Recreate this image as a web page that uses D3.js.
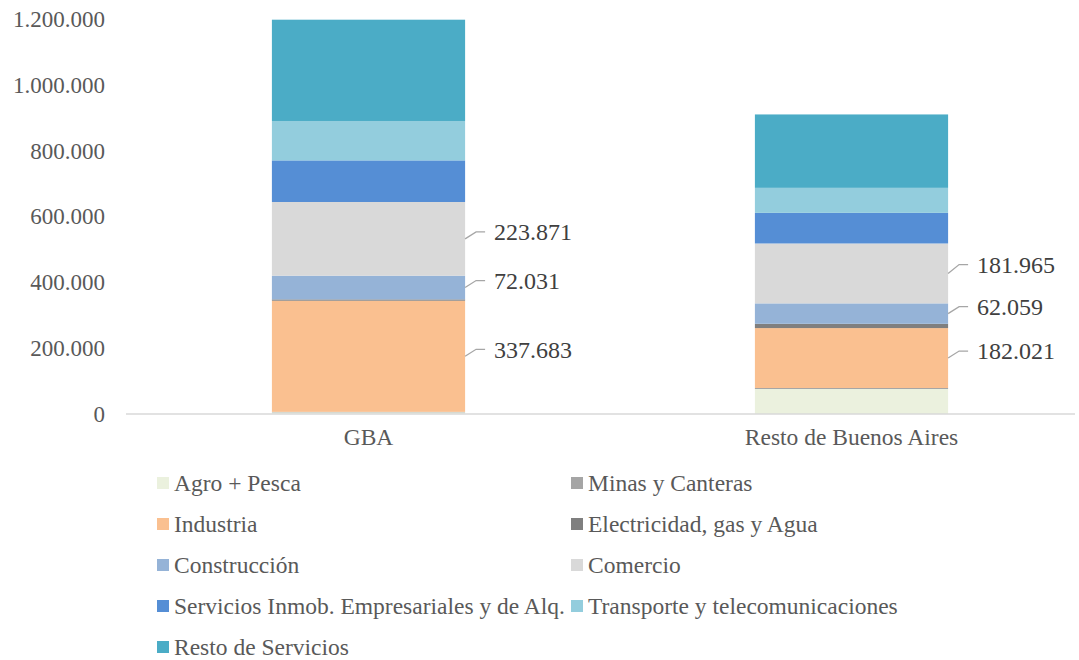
<!DOCTYPE html>
<html>
<head>
<meta charset="utf-8">
<script src="https://cdn.jsdelivr.net/npm/d3@7"></script>
<style>
  body { margin: 0; background: #fff; }
  text { font-family: "Liberation Serif", serif; }
</style>
</head>
<body>
<div id="chart"></div>
<script>
// Categories and sectors
const regions = ["GBA", "Resto de Buenos Aires"];
const sectors = [
    "Agro + Pesca", "Minas y Canteras", "Industria", "Electricidad, gas y Agua",
    "Construcción", "Comercio", "Servicios Inmob. Empresariales y de Alq.",
    "Transporte y telecomunicaciones", "Resto de Servicios"
];
const colors = ["#EBF1DE", "#A5A5A5", "#FAC090", "#7F7F7F", "#95B3D7",
    "#D9D9D9", "#558ED5", "#93CDDD", "#4BACC6"];

// Values per sector (same order as sectors)
const gbaValues = [5000, 1500, 337683, 4000, 72031, 223871, 126400, 119700, 307700];
const restoValues = [76000, 3000, 182021, 13000, 62059, 181965, 93000, 76000, 223000];

// Sectors that carry a data label
const labelled = ["Industria", "Construcción", "Comercio"];

const yTicks = [0, 200000, 400000, 600000, 800000, 1000000, 1200000];

const width = 1079, height = 660;
const locale = d3.formatLocale({ decimal: ",", thousands: ".", grouping: [3], currency: ["$", ""] });
const fmt = locale.format(",d");

const svg = d3.select("#chart").append("svg")
    .attr("width", width)
    .attr("height", height);

const x = d3.scaleBand()
    .domain(regions)
    .range([127, 1093])
    .paddingInner(0.6)
    .paddingOuter(0.3);

const y = d3.scaleLinear()
    .domain([0, 1200000])
    .range([414, 19]);

// stack data
const rows = regions.map((r, i) => {
    const vals = i === 0 ? gbaValues : restoValues;
    const row = { region: r };
    sectors.forEach((s, j) => row[s] = vals[j]);
    return row;
});
const series = d3.stack().keys(sectors)(rows);

// y axis labels
const yAxis = svg.append("g")
    .attr("transform", "translate(105,0)")
    .call(d3.axisLeft(y).tickValues(yTicks).tickFormat(fmt).tickSize(0).tickPadding(0));
yAxis.select(".domain").remove();
yAxis.selectAll("text")
    .attr("font-family", "Liberation Serif")
    .attr("font-size", 23)
    .attr("fill", "#595959");

// bars
svg.append("g").selectAll("g")
    .data(series)
    .join("g")
    .attr("fill", (d, i) => colors[i])
    .selectAll("rect")
    .data(d => d)
    .join("rect")
    .attr("x", d => x(d.data.region))
    .attr("width", x.bandwidth())
    .attr("y", d => y(d[1]))
    .attr("height", d => y(d[0]) - y(d[1]));

// baseline
svg.append("line")
    .attr("x1", 126).attr("x2", 1075)
    .attr("y1", y(0)).attr("y2", y(0))
    .attr("stroke", "#D9D9D9")
    .attr("stroke-width", 1.5);

// category labels
const xAxis = svg.append("g")
    .attr("transform", `translate(0,${y(0)})`)
    .call(d3.axisBottom(x).tickSize(0).tickPadding(14));
xAxis.select(".domain").remove();
xAxis.selectAll("text")
    .attr("font-family", "Liberation Serif")
    .attr("font-size", 23.5)
    .attr("fill", "#595959");

// data labels with leader lines
const labelG = svg.append("g");
regions.forEach(r => {
    const xr = x(r) + x.bandwidth();
    let prevY = Infinity;
    series.filter(s => labelled.includes(s.key)).forEach(s => {
        const d = s.find(p => p.data.region === r);
        const mid = y((d[0] + d[1]) / 2);
        let ly = mid - 7;
        if (prevY - ly < 42) ly = prevY - 42;
        prevY = ly;
        labelG.append("path")
            .attr("d", `M${xr},${mid}L${xr + 11},${ly}L${xr + 20},${ly}`)
            .attr("fill", "none")
            .attr("stroke", "#A6A6A6")
            .attr("stroke-width", 1.3);
        labelG.append("text")
            .attr("x", xr + 29)
            .attr("y", ly)
            .attr("dy", "0.35em")
            .attr("font-size", 24)
            .attr("fill", "#404040")
            .text(fmt(d[1] - d[0]));
    });
});

// legend
const legend = svg.append("g");
sectors.forEach((s, i) => {
    const col = i % 2, row = Math.floor(i / 2);
    const lx = col === 0 ? 157 : 571;
    const ly = 483 + row * 41;
    legend.append("rect")
        .attr("x", lx).attr("y", ly - 6)
        .attr("width", 12).attr("height", 12)
        .attr("fill", colors[i]);
    legend.append("text")
        .attr("x", lx + 17)
        .attr("y", ly)
        .attr("dy", "0.35em")
        .attr("font-size", 23.5)
        .attr("fill", "#595959")
        .text(s);
});
</script>
</body>
</html>
